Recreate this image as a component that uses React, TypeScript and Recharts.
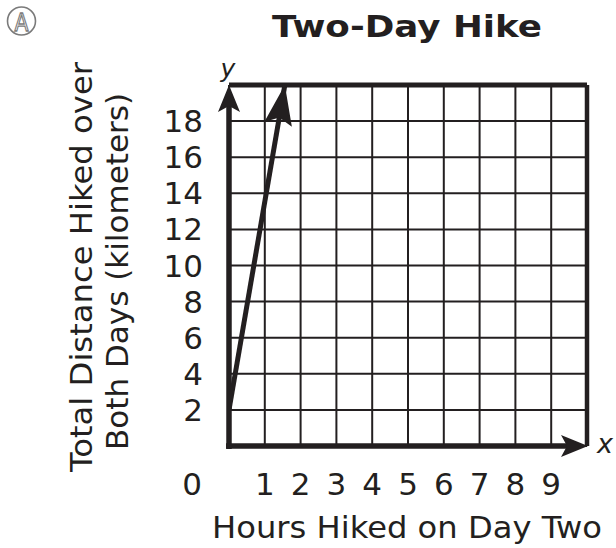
import React from 'react';
import { LineChart, Line, XAxis, YAxis, CartesianGrid, ReferenceLine } from 'recharts';

const xTicks = [0, 1, 2, 3, 4, 5, 6, 7, 8, 9];
const yTicks = [2, 4, 6, 8, 10, 12, 14, 16, 18];
const hoursDayTwo = [0, 1.56];
const totalDistance = [2, 20];
const xDomain = [0, 10];
const yDomain = [0, 20];
const title = 'Two-Day Hike';
const xLabel = 'Hours Hiked on Day Two';
const yLabelLines = ['Total Distance Hiked over', 'Both Days (kilometers)'];

const INK = '#231f20';
const FONT = "'DejaVu Sans', Verdana, sans-serif";
const FS = 31;

const data = hoursDayTwo.map((h, i) => ({ hours: h, distance: totalDistance[i] }));

function arrowHead(tipX: number, tipY: number, dirX: number, dirY: number, len: number, half: number, notch: number) {
  const n = Math.hypot(dirX, dirY) || 1;
  const ux = dirX / n, uy = dirY / n;
  const px = -uy, py = ux;
  const bx = tipX - ux * len, by = tipY - uy * len;
  const nx = tipX - ux * notch, ny = tipY - uy * notch;
  return `M${tipX},${tipY} L${bx + px * half},${by + py * half} L${nx},${ny} L${bx - px * half},${by - py * half} Z`;
}

const ArrowDot = (props: any) => {
  const { cx, cy, index, points } = props;
  if (index !== data.length - 1 || !points || index < 1) return <g key={`d${index}`} />;
  const prev = points[index - 1];
  return <path key={`d${index}`} d={arrowHead(cx, cy, cx - prev.x, cy - prev.y, 40, 14, 33)} fill={INK} />;
};

const XTick = (props: any) => {
  const { x, y, payload } = props;
  const v = payload.value;
  const dx = v === 0 ? -37 : 0;
  return (
    <text x={x + dx} y={y + 49} textAnchor="middle" fontFamily={FONT} fontSize={FS} fill={INK}>
      {String(v)}
    </text>
  );
};

const YTick = (props: any) => {
  const { x, y, payload } = props;
  return (
    <text x={x - 26} y={y + 11} textAnchor="end" fontFamily={FONT} fontSize={FS} fill={INK}>
      {String(payload.value)}
    </text>
  );
};

const LeftAxisShape = (p: any) => {
  const top = Math.min(p.y1, p.y2);
  const bottom = Math.max(p.y1, p.y2);
  const x = p.x1;
  return (
    <g>
      <line x1={x} y1={bottom + 3} x2={x} y2={top + 20} stroke={INK} strokeWidth={5.5} />
      <path d={arrowHead(x, top, 0, -1, 27, 11, 21)} fill={INK} />
    </g>
  );
};

const BottomAxisShape = (p: any) => {
  const left = Math.min(p.x1, p.x2);
  const right = Math.max(p.x1, p.x2);
  const y = p.y1;
  return (
    <g>
      <line x1={left - 3} y1={y} x2={right - 20} y2={y} stroke={INK} strokeWidth={5.5} />
      <path d={arrowHead(right + 1, y, 1, 0, 27, 11, 21)} fill={INK} />
    </g>
  );
};

export default function App() {
  return (
    <div style={{ position: 'absolute', left: 0, top: 0, width: 616, height: 548, background: '#fff' }}>
      <LineChart
        width={616}
        height={548}
        data={data}
        margin={{ top: 85, right: 29, bottom: 42, left: 169 }}
      >
        <CartesianGrid stroke={INK} strokeWidth={2} />
        <XAxis
          type="number"
          dataKey="hours"
          domain={xDomain}
          ticks={xTicks}
          interval={0}
          axisLine={false}
          tickLine={false}
          tickSize={0}
          tickMargin={0}
          height={60}
          allowDataOverflow
          tick={<XTick />}
        />
        <YAxis
          type="number"
          domain={yDomain}
          ticks={yTicks}
          interval={0}
          axisLine={false}
          tickLine={false}
          tickSize={0}
          tickMargin={0}
          width={60}
          allowDataOverflow
          tick={<YTick />}
        />
        <ReferenceLine y={20} stroke={INK} strokeWidth={5} />
        <ReferenceLine x={10} stroke={INK} strokeWidth={4.5} />
        <ReferenceLine x={0} shape={<LeftAxisShape />} />
        <ReferenceLine y={0} shape={<BottomAxisShape />} />
        <Line
          type="linear"
          dataKey="distance"
          stroke={INK}
          strokeWidth={5}
          dot={<ArrowDot />}
          activeDot={false}
          isAnimationActive={false}
        />
      </LineChart>
      <svg width={616} height={548} style={{ position: 'absolute', left: 0, top: 0, pointerEvents: 'none' }}>
        <circle cx={21.5} cy={21} r={14} fill="none" stroke="#7a7a7a" strokeWidth={1.6} />
        <text x={21.5} y={31} textAnchor="middle" fontFamily={FONT} fontSize={25} fill="#fff" stroke="#7a7a7a" strokeWidth={1.3} textLength={14} lengthAdjust="spacingAndGlyphs">A</text>
        <text x={407} y={37} textAnchor="middle" fontFamily={FONT} fontWeight="bold" fontSize={31} fill={INK} textLength={270} lengthAdjust="spacingAndGlyphs">{title}</text>
        <text x={407} y={538} textAnchor="middle" fontFamily={FONT} fontSize={FS} fill={INK} textLength={390} lengthAdjust="spacingAndGlyphs">{xLabel}</text>
        <text transform="translate(92,267) rotate(-90)" textAnchor="middle" fontFamily={FONT} fontSize={FS} fill={INK} textLength={410} lengthAdjust="spacingAndGlyphs">{yLabelLines[0]}</text>
        <text transform="translate(128,271.5) rotate(-90)" textAnchor="middle" fontFamily={FONT} fontSize={FS} fill={INK} textLength={357} lengthAdjust="spacingAndGlyphs">{yLabelLines[1]}</text>
        <text x={228} y={77} textAnchor="middle" fontFamily={FONT} fontStyle="italic" fontSize={25} fill={INK}>y</text>
        <text x={605} y={453} textAnchor="middle" fontFamily={FONT} fontStyle="italic" fontSize={27} fill={INK}>x</text>
      </svg>
    </div>
  );
}
